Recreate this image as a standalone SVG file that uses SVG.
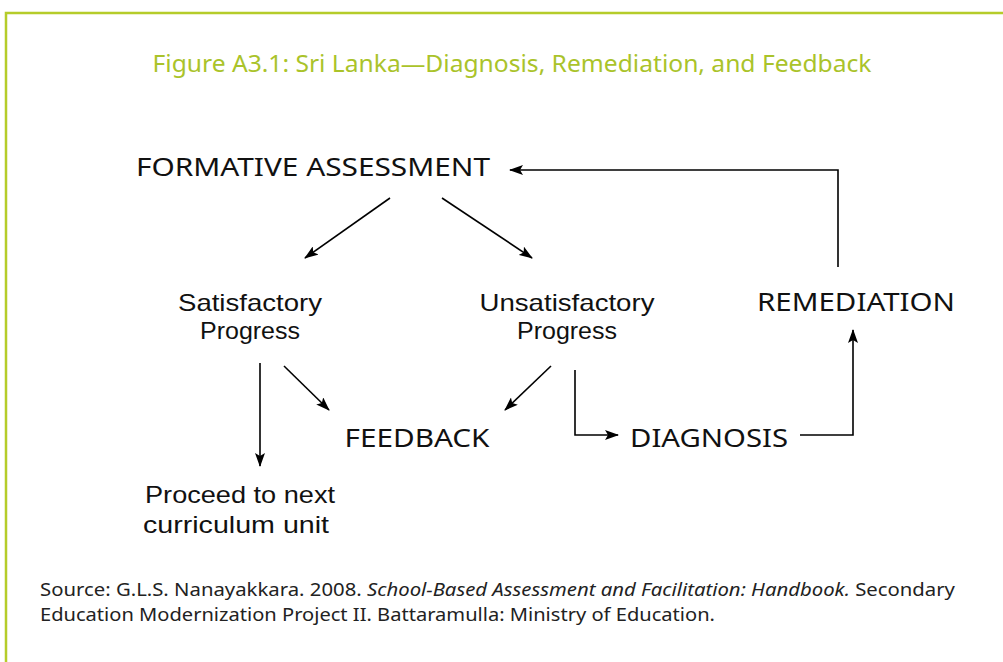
<svg xmlns="http://www.w3.org/2000/svg" width="1003" height="662" viewBox="0 0 1003 662">
<defs>
<marker id="ah" viewBox="0 0 14 10" refX="13" refY="5" markerWidth="14" markerHeight="10" markerUnits="userSpaceOnUse" orient="auto">
<path d="M0,0 L14,5 L0,10 L3,5 Z" fill="#000"/>
</marker>
<style>
.t{font-family:"Noto Sans","Open Sans",sans-serif;fill:#111;font-weight:400}
.cap{font-size:26px}
.lc{font-family:"Liberation Sans",Arial,sans-serif;font-size:24px}
.src{font-family:"Noto Sans","Open Sans",sans-serif;font-size:18px;fill:#222;font-weight:400}
.c{fill:none;stroke:#000;stroke-width:1.6;marker-end:url(#ah)}
</style>
</defs>
<rect width="1003" height="662" fill="#fff"/>
<path d="M6,662 V13 H1003" fill="none" stroke="#b5cc2a" stroke-width="2.5"/>
<text x="512" y="72" text-anchor="middle" font-family="'Noto Sans','Open Sans',sans-serif" font-weight="400" font-size="24" fill="#aac32a" textLength="719" lengthAdjust="spacingAndGlyphs">Figure A3.1: Sri Lanka—Diagnosis, Remediation, and Feedback</text>
<g id="connectors">
<path class="c" d="M390,198 L305,258"/>
<path class="c" d="M442,198 L532,258"/>
<path class="c" d="M838,267 V170 H510"/>
<path class="c" d="M260,363 V466"/>
<path class="c" d="M284,366 L329,410"/>
<path class="c" d="M551,366 L505,410"/>
<path class="c" d="M575,370 V435 H618"/>
<path class="c" d="M800,435 H853 V330"/>
</g>
<g id="formative"><text class="t cap" x="313" y="176" text-anchor="middle" textLength="354" lengthAdjust="spacingAndGlyphs">FORMATIVE ASSESSMENT</text></g>
<g id="satisfactory"><text class="t lc" x="250" y="311" text-anchor="middle" textLength="144" lengthAdjust="spacingAndGlyphs">Satisfactory</text><text class="t lc" x="250" y="339" text-anchor="middle" textLength="100" lengthAdjust="spacingAndGlyphs">Progress</text></g>
<g id="unsatisfactory"><text class="t lc" x="567" y="311" text-anchor="middle" textLength="175" lengthAdjust="spacingAndGlyphs">Unsatisfactory</text><text class="t lc" x="567" y="339" text-anchor="middle" textLength="100" lengthAdjust="spacingAndGlyphs">Progress</text></g>
<g id="remediation"><text class="t cap" x="856" y="311" text-anchor="middle" textLength="198" lengthAdjust="spacingAndGlyphs">REMEDIATION</text></g>
<g id="feedback"><text class="t cap" x="417" y="447" text-anchor="middle" textLength="145" lengthAdjust="spacingAndGlyphs">FEEDBACK</text></g>
<g id="diagnosis"><text class="t cap" x="709" y="447" text-anchor="middle" textLength="158" lengthAdjust="spacingAndGlyphs">DIAGNOSIS</text></g>
<g id="proceed"><text class="t lc" x="240" y="503" text-anchor="middle" textLength="190" lengthAdjust="spacingAndGlyphs">Proceed to next</text><text class="t lc" x="236" y="533" text-anchor="middle" textLength="186" lengthAdjust="spacingAndGlyphs">curriculum unit</text></g>
<g id="source">
<text class="src" x="40" y="596" textLength="915" lengthAdjust="spacingAndGlyphs">Source: G.L.S. Nanayakkara. 2008. <tspan font-style="italic">School-Based Assessment and Facilitation: Handbook.</tspan> Secondary</text>
<text class="src" x="40" y="621" textLength="675" lengthAdjust="spacingAndGlyphs">Education Modernization Project II. Battaramulla: Ministry of Education.</text>
</g>
</svg>
